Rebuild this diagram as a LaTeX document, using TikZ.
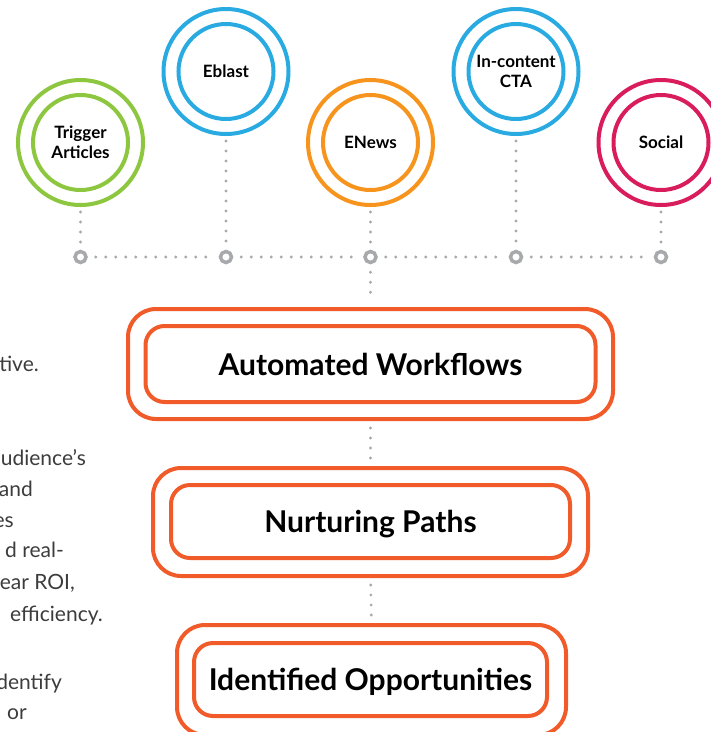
\documentclass[tikz,border=0pt]{standalone}
\usepackage{fontspec}
\setmainfont{Lato}
\definecolor{cgreen}{HTML}{8DC63F}
\definecolor{cblue}{HTML}{29ABE2}
\definecolor{corange}{HTML}{F7941D}
\definecolor{ccrimson}{HTML}{D91C5C}
\definecolor{cbox}{HTML}{F15A29}
\definecolor{cdot}{HTML}{A7A9AC}
\definecolor{ctext}{HTML}{3C3C3C}
\begin{document}
\begin{tikzpicture}[x=1pt,y=-1pt,
  outring/.style={circle,draw=#1,line width=4pt,minimum size=125pt,inner sep=0pt},
  inring/.style={circle,draw=#1,line width=4pt,minimum size=95pt,inner sep=0pt,align=center,
     font=\fontsize{17}{19.5}\selectfont\bfseries},
  hub/.style={circle,draw=cdot,line width=3.5pt,minimum size=11pt,inner sep=0pt},
  dotline/.style={draw=cdot,line width=3.2pt,line cap=round,dash pattern=on 0pt off 10pt},
  outbox/.style={draw=cbox,line width=4pt,rounded corners=28pt,inner sep=0pt},
  inbox/.style={draw=cbox,line width=4pt,rounded corners=19pt,inner sep=0pt,
     text height=22pt,text depth=0pt,
     font=\fontsize{30}{34}\selectfont\bfseries},
  side/.style={anchor=base east,inner sep=0pt,text=ctext,font=\fontsize{21}{24}\selectfont}]
\useasboundingbox (0,0) rectangle (711,732);

% circles
\node[outring=cgreen] (ta) at (80.5,142.5) {};
\node[inring=cgreen] (tai) at (80.5,142.5) {Trigger\\Articles};
\node[outring=cblue] (eb) at (226,71.5) {};
\node[inring=cblue] (ebi) at (226,71.5) {Eblast};
\node[outring=corange] (en) at (370.5,142.5) {};
\node[inring=corange] (eni) at (370.5,142.5) {ENews};
\node[outring=cblue] (ic) at (516,71.5) {};
\node[inring=cblue] (ici) at (516,71.5) {In-content\\CTA};
\node[outring=ccrimson] (so) at (661,142.5) {};
\node[inring=ccrimson] (soi) at (661,142.5) {Social};

% hubs
\node[hub] (h1) at (80.5,257) {};
\node[hub] (h2) at (226,257) {};
\node[hub] (h3) at (370.5,257) {};
\node[hub] (h4) at (516,257) {};
\node[hub] (h5) at (661,257) {};

% boxes
\node[outbox,minimum width=485pt,minimum height=110pt] (b1) at (370.5,364) {};
\node[inbox,minimum width=450pt,minimum height=76pt] (b1i) at (370.5,364) {Automated Workflows};
\node[outbox,minimum width=435pt,minimum height=108pt] (b2) at (370.5,522) {};
\node[inbox,minimum width=399pt,minimum height=73pt] (b2i) at (370.5,521.5) {Nurturing Paths};
\node[outbox,minimum width=389pt,minimum height=110pt] (b3) at (371.5,680) {};
\node[inbox,minimum width=353pt,minimum height=73pt] (b3i) at (370.5,679.5) {Identified Opportunities};

% connectors
\draw[dotline,shorten <=5pt,shorten >=4pt] (ta.south) -- (h1.north);
\draw[dotline,shorten <=5pt,shorten >=4pt] (eb.south) -- (h2.north);
\draw[dotline,shorten <=5pt,shorten >=4pt] (en.south) -- (h3.north);
\draw[dotline,shorten <=5pt,shorten >=4pt] (ic.south) -- (h4.north);
\draw[dotline,shorten <=5pt,shorten >=4pt] (so.south) -- (h5.north);
\draw[dotline,shorten <=8pt,shorten >=4pt] (h1.east) -- (h2.west);
\draw[dotline,shorten <=8pt,shorten >=4pt] (h2.east) -- (h3.west);
\draw[dotline,shorten <=8pt,shorten >=4pt] (h3.east) -- (h4.west);
\draw[dotline,shorten <=8pt,shorten >=4pt] (h4.east) -- (h5.west);
\draw[dotline,shorten <=8pt,shorten >=5pt] (h3.south) -- (b1.north);
\draw[dotline,shorten <=7pt,shorten >=5pt] (b1.south) -- (b2.north);
\draw[dotline,shorten <=7pt,shorten >=5pt] (b2.south) -- (b3.north);

% clipped side text
\node[side] (s1) at (39,371) {tive.};
\node[side] (s2) at (86,465) {udience’s};
\node[side] (s3) at (33,496) {and};
\node[side] (s4) at (14,527) {es};
\node[side] (s5) at (64,557) {d real-};
\node[side] (s6) at (75,589) {ear ROI,};
\node[side] (s7) at (103,621) {efficiency.};
\node[side] (s8) at (62,689) {dentify};
\node[side] (s9) at (27,719) {or};
\end{tikzpicture}
\end{document}
